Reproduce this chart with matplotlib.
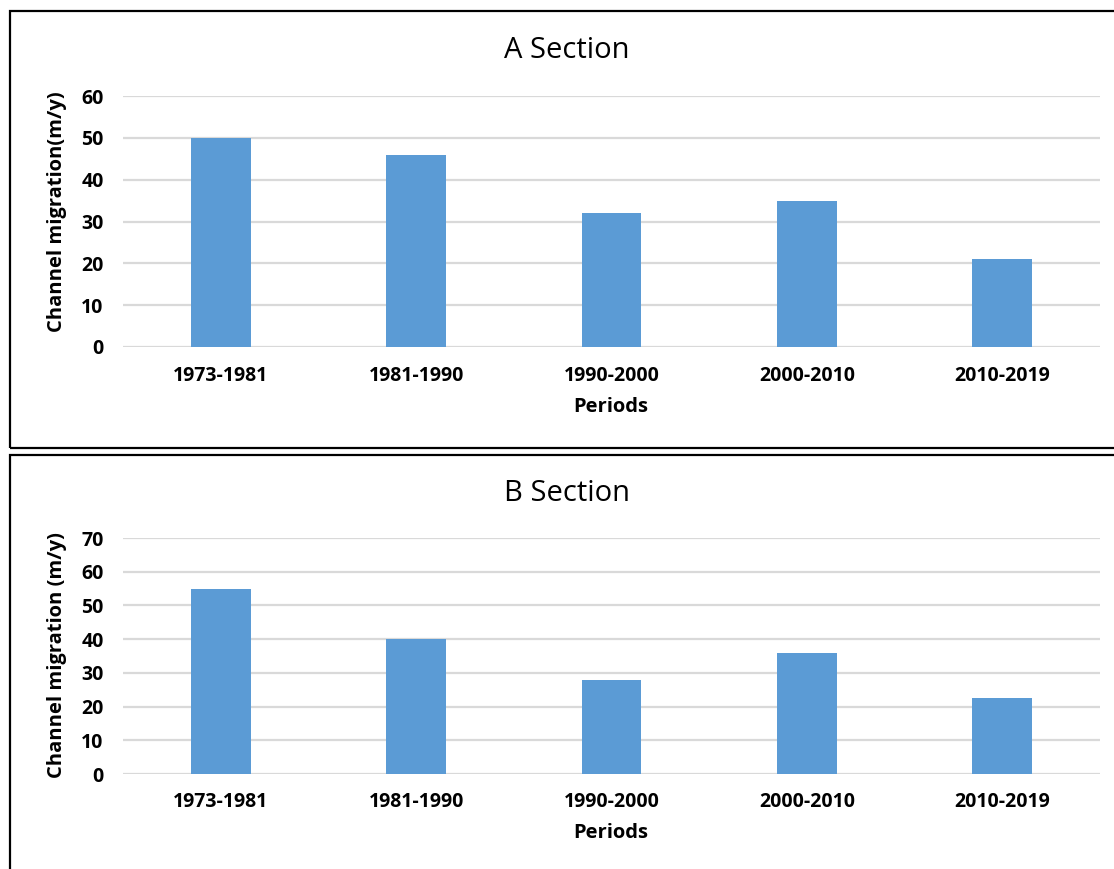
import matplotlib
matplotlib.use("Agg")
import matplotlib.pyplot as plt
from matplotlib.patches import Rectangle

periods = ["1973-1981", "1981-1990", "1990-2000", "2000-2010", "2010-2019"]
section_a = [50, 46, 32, 35, 21]
section_b = [55, 40, 28, 36, 22.5]
ticks_a = [0, 10, 20, 30, 40, 50, 60]
ticks_b = [0, 10, 20, 30, 40, 50, 60, 70]

BAR_COLOR = "#5B9BD5"
GRID_COLOR = "#D9D9D9"
FONT = ["Open Sans", "DejaVu Sans"]
TICK_SIZE = 14
LABEL_SIZE = 14.5
TITLE_SIZE = 21

W, H = 1114, 869
fig = plt.figure(figsize=(W / 100, H / 100), dpi=100)
fig.patch.set_facecolor("white")


def fx(px):
    return px / W


def fy(py):
    return 1 - py / H


def panel(values, ticks, top_px, bottom_px, title, title_y, ylabel, ylabel_y, tick_y, xlabel_y):
    left_px, right_px = 123, 1100
    ax = fig.add_axes([fx(left_px), fy(bottom_px), fx(right_px - left_px), fy(top_px) - fy(bottom_px)])
    x = range(len(periods))
    ax.bar(x, values, width=0.307, color=BAR_COLOR, zorder=3)
    ax.set_xlim(-0.5, len(periods) - 0.5)
    ax.set_ylim(ticks[0], ticks[-1])
    ax.set_yticks(ticks)
    ax.set_yticklabels([str(t) for t in ticks], fontfamily=FONT, fontweight="bold", fontsize=TICK_SIZE)
    ax.set_xticks(list(x))
    ax.set_xticklabels([])
    ax.grid(axis="y", color=GRID_COLOR, linewidth=1.6, zorder=0)
    for s in ax.spines.values():
        s.set_visible(False)
    ax.tick_params(axis="both", length=0)
    ax.tick_params(axis="y", pad=14)
    for i, p in enumerate(periods):
        fig.text(fx(left_px + (i + 0.5) * (right_px - left_px) / len(periods)), fy(tick_y), p,
                 ha="center", va="center", fontfamily=FONT, fontweight="bold", fontsize=TICK_SIZE)
    fig.text(fx(567), fy(title_y), title, ha="center", va="center", fontfamily=FONT, fontsize=TITLE_SIZE)
    fig.text(fx(57), fy(ylabel_y), ylabel, ha="center", va="center", rotation=90,
             fontfamily=FONT, fontweight="bold", fontsize=LABEL_SIZE)
    fig.text(fx(611), fy(xlabel_y), "Periods", ha="center", va="center",
             fontfamily=FONT, fontweight="bold", fontsize=LABEL_SIZE)
    return ax


panel(section_a, ticks_a, 96, 347, "A Section", 50, "Channel migration(m/y)", 212, 376, 407)
panel(section_b, ticks_b, 538, 774, "B Section", 493, "Channel migration (m/y)", 655, 802, 833)

# Frames around the two panels
fig.patches.append(Rectangle((fx(10), fy(448)), fx(1120 - 10), fy(11) - fy(448),
                             transform=fig.transFigure, fill=False, edgecolor="black", linewidth=1.6))
fig.patches.append(Rectangle((fx(10), fy(880)), fx(1120 - 10), fy(455) - fy(880),
                             transform=fig.transFigure, fill=False, edgecolor="black", linewidth=1.6))

fig.savefig("out.png", dpi=100, facecolor="white")
